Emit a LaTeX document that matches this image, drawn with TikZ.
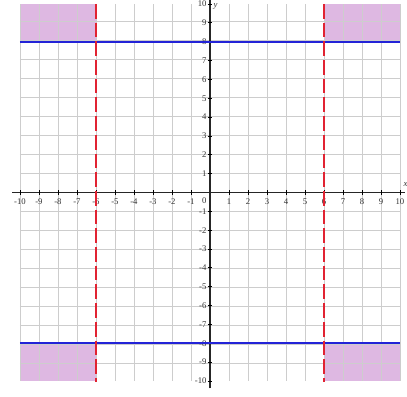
\documentclass[tikz,border=0pt]{standalone}
\usepackage{fontspec}
\setmainfont{Liberation Serif}
\definecolor{gridgray}{RGB}{205,205,205}
\definecolor{regionpink}{RGB}{222,184,226}
\definecolor{lineblue}{RGB}{35,35,215}
\definecolor{linered}{RGB}{225,35,50}
\tikzset{
  gridline/.style={gridgray, line width=1pt},
  axisline/.style={black!85, line width=2pt},
  bound/.style={lineblue, line width=2.8pt},
  dashbound/.style={linered, line width=3pt, dash pattern=on 22pt off 6pt},
  region/.style={fill=regionpink, draw=none},
  ticklab/.style={font=\fontsize{13}{13}\selectfont, inner sep=0.5pt, text=black!80},
  tickmark/.style={black, line width=1.2pt}
}
\begin{document}
\begin{tikzpicture}[x=1cm,y=0.992cm]
\useasboundingbox (-11.05,-10.8) rectangle (10.37,10.21);
% shaded regions
\path[region] (-10,8) rectangle (-6,10);
\path[region] (6,8) rectangle (10,10);
\path[region] (-10,-10) rectangle (-6,-8);
\path[region] (6,-10) rectangle (10,-8);
% grid
\draw[gridline] (-10,-10) grid (10,10);
% axes
\draw[axisline] (-10.4,0) -- (10.25,0);
\draw[axisline] (0,-10.4) -- (0,10.2);
\foreach \i in {-10,...,-1,1,2,...,10}{
  \draw[tickmark] (\i,-0.12) -- (\i,0.12);
  \draw[tickmark] (-0.12,\i) -- (0.12,\i);
  \node[ticklab] at (\i,-0.5) {\i};
  \node[ticklab, anchor=east] at (-0.16,\i) {\i};
}
\node[ticklab] (o) at (-0.3,-0.45) {0};
\node[ticklab] (xl) at (10.3,0.4) {\itshape x};
\node[ticklab] (yl) at (0.3,9.85) {\itshape y};
% boundaries
\draw[bound] (-10,8) -- (10,8);
\draw[bound] (-10,-8) -- (10,-8);
\draw[dashbound] (-6,10) -- (-6,-10.05);
\draw[dashbound] (6,10) -- (6,-10.05);
\end{tikzpicture}
\end{document}
